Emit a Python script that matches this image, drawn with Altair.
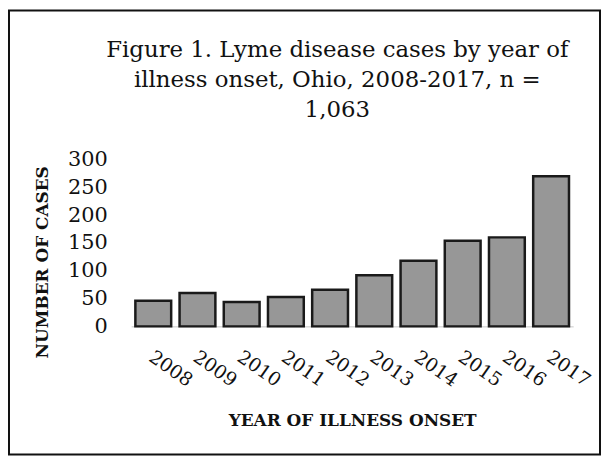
import altair as alt
import pandas as pd

years = ["2008", "2009", "2010", "2011", "2012", "2013", "2014", "2015", "2016", "2017"]
cases = [46, 60, 44, 53, 66, 92, 118, 154, 160, 270]
y_ticks = [0, 50, 100, 150, 200, 250, 300]
title_lines = ["Figure 1. Lyme disease cases by year of", "illness onset, Ohio, 2008-2017, n =", "1,063"]

df = pd.DataFrame({"year": years, "cases": cases})
SERIF = "DejaVu Serif"

bars = alt.Chart(df).mark_bar(
    color="#979797", stroke="#1a1a1a", strokeWidth=2.5
).encode(
    x=alt.X("year:N", sort=years,
            scale=alt.Scale(paddingInner=0.19, paddingOuter=0.095),
            axis=alt.Axis(title="YEAR OF ILLNESS ONSET", labelAngle=35, labelAlign="left",
                          labelBaseline="top", labelPadding=21, labelOffset=3,
                          tickSize=0, ticks=False, domain=True, domainColor="#c8c8c8",
                          labelFont=SERIF, labelFontSize=19, labelColor="#111",
                          titleFont=SERIF, titleFontSize=17, titleFontWeight="bold",
                          titleColor="#111", titleY=95, titleBaseline="middle")),
    y=alt.Y("cases:Q", scale=alt.Scale(domain=[0, 300], nice=False),
            axis=alt.Axis(title="NUMBER OF CASES", values=y_ticks, grid=False,
                          ticks=False, tickSize=0, domain=False, labelPadding=24,
                          labelFont=SERIF, labelFontSize=21, labelColor="#111",
                          titleFont=SERIF, titleFontSize=17, titleFontWeight="bold",
                          titleColor="#111", titleX=-89, titleY=103,
                          titleAlign="center", titleBaseline="middle")),
)

frame = alt.Chart(pd.DataFrame({"f": [0]})).mark_rect(
    filled=False, stroke="#111", strokeWidth=2
).encode(
    x=alt.value(-123), x2=alt.value(472), y=alt.value(-150), y2=alt.value(297)
)

chart = alt.layer(frame, bars).properties(
    width=445, height=168, padding=0, background="white",
    title=alt.TitleParams(text=title_lines, font=SERIF, fontSize=23, fontWeight="normal",
                          color="#111", lineHeight=30, anchor="middle", dx=-15, offset=-113),
).configure_view(strokeWidth=0)

chart.save("out.html", embed_options={"renderer": "svg", "actions": False})
